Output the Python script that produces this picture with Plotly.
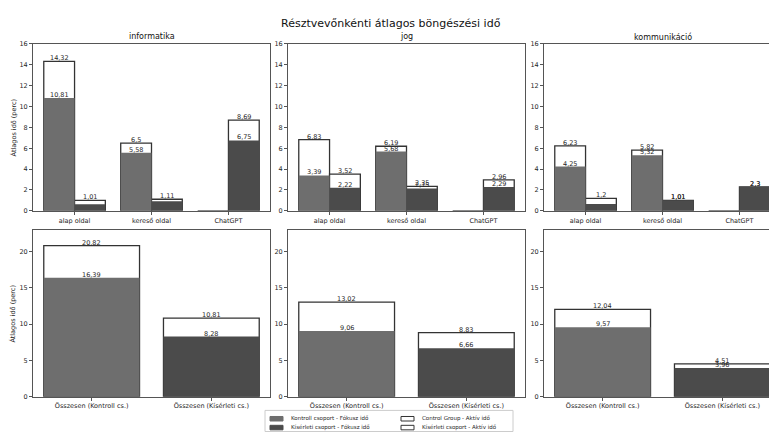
import plotly.graph_objects as go

# ---- data -------------------------------------------------------------
fields = ["informatika", "jog", "kommunikáció"]
pages = ["alap oldal", "kereső oldal", "ChatGPT"]
total_labels = ["Összesen (Kontroll cs.)", "Összesen (Kísérleti cs.)"]

# average minutes per participant, one row per field, one value per page type
ctrl_active = [[14.32, 6.5, 0.0], [6.83, 6.19, 0.0], [6.23, 5.82, 0.0]]
ctrl_focus = [[10.81, 5.58, 0.0], [3.39, 5.68, 0.0], [4.25, 5.32, 0.0]]
exp_active = [[1.01, 1.11, 8.69], [3.52, 2.35, 2.96], [1.2, 1.01, 2.3]]
exp_focus = [[0.62, 0.91, 6.75], [2.22, 2.15, 2.29], [0.65, 1.01, 2.3]]

# totals per field
total_ctrl_active = [20.82, 13.02, 12.04]
total_ctrl_focus = [16.39, 9.06, 9.57]
total_exp_active = [10.81, 8.83, 4.51]
total_exp_focus = [8.28, 6.66, 3.96]

legend_names = [
    "Kontroll csoport - Fókusz idő",
    "Kísérleti csoport - Fókusz idő",
    "Control Group - Aktív idő",
    "Kísérleti csoport - Aktív idő",
]

# ---- style ------------------------------------------------------------
W, H = 769, 436
FONT = "DejaVu Sans"
C_CTRL = "#6e6e6e"
C_EXP = "#4b4b4b"
C_EDGE = "#333333"
C_AX = "#555555"
C_TXT = "#262626"


def fmt(v):
    return f"{v:g}".replace(".", ",") if v >= 1 else ""


# panel geometry in pixels
panel_w = 237
lefts = [33, 288, 544]
top_y = (40.7, 210.7)
bot_y = (230.7, 400.0)

fig = go.Figure()
annotations = []

top_x_full = (-0.54, 2.54)
bot_x_full = (-0.49, 1.49)
top_ymax = 16
bot_ymax = max(total_ctrl_active + total_exp_active) * 1.1


def add_bars(xs, vals, off, width, fill, lw, xref, yref):
    """Bars plus a value label sitting on each bar's top edge."""
    fig.add_trace(go.Bar(
        x=xs, y=vals, offset=off, width=width, xaxis=xref, yaxis=yref,
        marker=dict(color=fill, line=dict(color=C_EDGE, width=lw)),
        showlegend=False, hoverinfo="skip"))
    for x, v in zip(xs, vals):
        label = fmt(v)
        if label:
            annotations.append(dict(
                text=label, x=x + off + width / 2, y=v, xref=xref, yref=yref,
                showarrow=False, xanchor="center", yanchor="bottom",
                yshift=-2, borderpad=0,
                font=dict(family=FONT, size=6.5, color=C_TXT)))


layout_axes = {}
for c, field in enumerate(fields):
    left = lefts[c]
    right = min(left + panel_w, W)
    frac = (right - left) / panel_w
    clipped = right < left + panel_w
    dom_x = [left / W, right / W]

    for row in range(2):
        idx = c + 1 + 3 * row
        xname = "xaxis" if idx == 1 else f"xaxis{idx}"
        yname = "yaxis" if idx == 1 else f"yaxis{idx}"
        xref = "x" if idx == 1 else f"x{idx}"
        yref = "y" if idx == 1 else f"y{idx}"
        if row == 0:
            lo, hi = top_x_full
            ys = top_y
            tickvals = list(range(len(pages)))
            ticktext = pages
            yr = [0, top_ymax]
            ytv = list(range(0, 17, 2))
        else:
            lo, hi = bot_x_full
            ys = bot_y
            tickvals = list(range(len(total_labels)))
            ticktext = total_labels
            yr = [0, bot_ymax]
            ytv = [0, 5, 10, 15, 20]
        xr = [lo, lo + (hi - lo) * frac]
        dom_y = [1 - ys[1] / H, 1 - ys[0] / H]
        layout_axes[xname] = dict(
            domain=dom_x, range=xr, anchor=yref, tickvals=tickvals,
            ticktext=ticktext, showline=True, mirror=True, linecolor=C_AX,
            linewidth=1, ticks="outside", ticklen=3, tickcolor=C_AX,
            tickfont=dict(family=FONT, size=6.5, color=C_TXT),
            showgrid=False, zeroline=False, fixedrange=True,
        )
        layout_axes[yname] = dict(
            domain=dom_y, range=yr, anchor=xref, tickvals=ytv,
            showline=True, mirror=not clipped, linecolor=C_AX, linewidth=1,
            ticks="outside", ticklen=3, tickcolor=C_AX,
            tickfont=dict(family=FONT, size=6.5, color=C_TXT),
            showgrid=False, zeroline=False, fixedrange=True,
        )

        if row == 0:
            xs = list(range(len(pages)))
            add_bars(xs, ctrl_active[c], -0.4, 0.4, "white", 1.3, xref, yref)
            add_bars(xs, exp_active[c], 0.0, 0.4, "white", 1.3, xref, yref)
            add_bars(xs, ctrl_focus[c], -0.4, 0.4, C_CTRL, 0, xref, yref)
            add_bars(xs, exp_focus[c], 0.0, 0.4, C_EXP, 0, xref, yref)
        else:
            xs = list(range(len(total_labels)))
            act = [total_ctrl_active[c], total_exp_active[c]]
            foc = [total_ctrl_focus[c], total_exp_focus[c]]
            add_bars(xs, act, -0.4, 0.8, "white", 1.3, xref, yref)
            add_bars(xs, foc, -0.4, 0.8, [C_CTRL, C_EXP], 0, xref, yref)

# figure title and panel titles
annotations.append(dict(text="Résztvevőnkénti átlagos böngészési idő",
                        x=391 / W, y=1 - 20 / H, xref="paper", yref="paper",
                        showarrow=False, xanchor="center", yanchor="middle",
                        font=dict(family=FONT, size=11, color="#111")))
for c, field in enumerate(fields):
    annotations.append(dict(text=field, x=(lefts[c] + panel_w / 2) / W,
                            y=1 - 33.5 / H, xref="paper", yref="paper",
                            showarrow=False, xanchor="center", yanchor="middle",
                            font=dict(family=FONT, size=8, color="#111")))
for yc in [(top_y[0] + top_y[1]) / 2, (bot_y[0] + bot_y[1]) / 2]:
    annotations.append(dict(text="Átlagos idő (perc)", x=13 / W, y=1 - yc / H,
                            xref="paper", yref="paper", showarrow=False,
                            textangle=-90, xanchor="center", yanchor="middle",
                            font=dict(family=FONT, size=6.5, color=C_TXT)))

# legend box with two columns of handles
shapes = [dict(type="rect", xref="paper", yref="paper",
               x0=265 / W, x1=513 / W, y0=1 - 435.5 / H, y1=1 - 414 / H,
               line=dict(color="#cccccc", width=1), fillcolor="white")]
handles = [
    (legend_names[0], 270, 422.5, C_CTRL, C_CTRL),
    (legend_names[1], 270, 431.5, C_EXP, C_EXP),
    (legend_names[2], 401, 422.5, "white", C_EDGE),
    (legend_names[3], 401, 431.5, "white", C_EDGE),
]
for name, hx, hy, fill, edge in handles:
    shapes.append(dict(type="rect", xref="paper", yref="paper",
                       x0=hx / W, x1=(hx + 13) / W,
                       y0=1 - (hy + 2.3) / H, y1=1 - (hy - 2.3) / H,
                       line=dict(color=edge, width=1), fillcolor=fill))
    annotations.append(dict(text=name, x=(hx + 19) / W, y=1 - hy / H,
                            xref="paper", yref="paper", showarrow=False,
                            xanchor="left", yanchor="middle",
                            font=dict(family=FONT, size=5.5, color=C_TXT)))

fig.update_layout(
    width=W, height=H, margin=dict(l=0, r=0, t=0, b=0),
    paper_bgcolor="white", plot_bgcolor="white",
    barmode="overlay", showlegend=False,
    annotations=annotations, shapes=shapes,
    font=dict(family=FONT),
    **layout_axes,
)

fig.write_html("out.html")
